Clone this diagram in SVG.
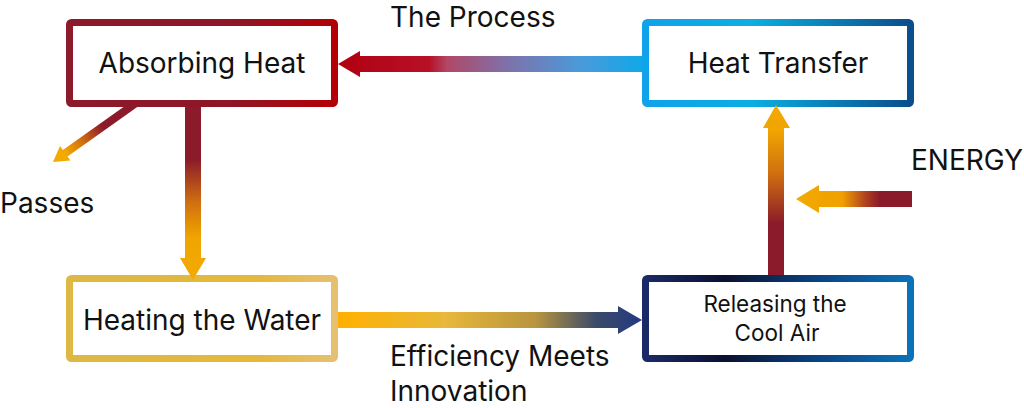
<svg xmlns="http://www.w3.org/2000/svg" width="1024" height="408" viewBox="0 0 1024 408">
  <style>
    .box { fill: #ffffff; stroke-width: 7; }
    .lbl { font-family: Inter, "Noto Sans", "Liberation Sans", sans-serif; font-size: 28px; fill: #111111; }
    .in { text-anchor: middle; }
    .sm { font-size: 22.5px; }
  </style>
  <defs>
    <linearGradient id="gAbs" x1="0" y1="0" x2="1" y2="0">
      <stop offset="0" stop-color="#8B1A2A"/>
      <stop offset="0.6" stop-color="#8E1626"/>
      <stop offset="1" stop-color="#B30005"/>
    </linearGradient>
    <linearGradient id="gHT" x1="0" y1="0" x2="1" y2="0">
      <stop offset="0" stop-color="#10A2EA"/>
      <stop offset="0.4" stop-color="#0BAEE2"/>
      <stop offset="1" stop-color="#0A4E8C"/>
    </linearGradient>
    <linearGradient id="gHW" x1="0" y1="0" x2="1" y2="0">
      <stop offset="0" stop-color="#DDB844"/>
      <stop offset="0.7" stop-color="#E4B83C"/>
      <stop offset="1" stop-color="#E6C070"/>
    </linearGradient>
    <linearGradient id="gRC" x1="0" y1="0" x2="1" y2="0">
      <stop offset="0" stop-color="#1B2A66"/>
      <stop offset="0.3" stop-color="#0B1030"/>
      <stop offset="0.65" stop-color="#0A4382"/>
      <stop offset="1" stop-color="#0A72B8"/>
    </linearGradient>
    <linearGradient id="aTop" gradientUnits="userSpaceOnUse" x1="338" y1="0" x2="642" y2="0">
      <stop offset="0" stop-color="#B00010"/>
      <stop offset="0.3" stop-color="#B81028"/>
      <stop offset="0.36" stop-color="#B04868"/>
      <stop offset="0.55" stop-color="#8070A8"/>
      <stop offset="0.8" stop-color="#4A9ADB"/>
      <stop offset="1" stop-color="#10A8E8"/>
    </linearGradient>
    <linearGradient id="aDown" gradientUnits="userSpaceOnUse" x1="0" y1="107" x2="0" y2="281">
      <stop offset="0" stop-color="#8B1A2A"/>
      <stop offset="0.3" stop-color="#8B1A2A"/>
      <stop offset="0.55" stop-color="#D07010"/>
      <stop offset="0.75" stop-color="#F0A500"/>
      <stop offset="1" stop-color="#F2AA00"/>
    </linearGradient>
    <linearGradient id="aUp" gradientUnits="userSpaceOnUse" x1="0" y1="275" x2="0" y2="105">
      <stop offset="0" stop-color="#8B1A2A"/>
      <stop offset="0.3" stop-color="#8B1A2A"/>
      <stop offset="0.6" stop-color="#D07010"/>
      <stop offset="0.85" stop-color="#F0A500"/>
      <stop offset="1" stop-color="#F2AA00"/>
    </linearGradient>
    <linearGradient id="aEn" gradientUnits="userSpaceOnUse" x1="796" y1="0" x2="912" y2="0">
      <stop offset="0" stop-color="#F2AA00"/>
      <stop offset="0.4" stop-color="#F0A000"/>
      <stop offset="0.6" stop-color="#B04020"/>
      <stop offset="0.72" stop-color="#8B1A2A"/>
      <stop offset="1" stop-color="#8B1A2A"/>
    </linearGradient>
    <linearGradient id="aBot" gradientUnits="userSpaceOnUse" x1="338" y1="0" x2="642" y2="0">
      <stop offset="0" stop-color="#FFB000"/>
      <stop offset="0.35" stop-color="#E8B838"/>
      <stop offset="0.65" stop-color="#B89440"/>
      <stop offset="0.85" stop-color="#3A4A6A"/>
      <stop offset="1" stop-color="#233A80"/>
    </linearGradient>
    <linearGradient id="aPass" gradientUnits="userSpaceOnUse" x1="136" y1="103" x2="53" y2="162">
      <stop offset="0" stop-color="#8B1A2A"/>
      <stop offset="0.4" stop-color="#8B1A2A"/>
      <stop offset="0.65" stop-color="#D07010"/>
      <stop offset="0.85" stop-color="#F2AA00"/>
      <stop offset="1" stop-color="#F2AA00"/>
    </linearGradient>
  </defs>

  <g id="connectors-back">
    <polygon fill="url(#aPass)" points="133.7,99.7 138.3,106.3 67.5,156.6 70.4,160.6 53,162 60,146 62.9,150"/>
  </g>

  <g id="node-absorbing">
    <rect class="box" x="69.5" y="22.5" width="265" height="81" rx="2" stroke="url(#gAbs)"/>
    <text class="lbl in" x="202" y="73">Absorbing Heat</text>
  </g>
  <g id="node-heat-transfer">
    <rect class="box" x="645.5" y="22.5" width="265" height="81" rx="2" stroke="url(#gHT)"/>
    <text class="lbl in" x="778" y="73">Heat Transfer</text>
  </g>
  <g id="node-heating-water">
    <rect class="box" x="69.5" y="278.5" width="265" height="80" rx="2" stroke="url(#gHW)"/>
    <text class="lbl in" x="202" y="330">Heating the Water</text>
  </g>
  <g id="node-releasing">
    <rect class="box" x="645.5" y="278.5" width="265" height="80" rx="2" stroke="url(#gRC)"/>
    <text class="lbl in sm" x="775" y="312">Releasing the</text>
    <text class="lbl in sm" x="777" y="341">Cool Air</text>
  </g>

  <g id="connectors">
    <polygon fill="url(#aTop)" points="338,64 360,51 360,56 642,56 642,72 360,72 360,77"/>
    <polygon fill="url(#aDown)" points="185,107 201,107 201,258 206,258 193,280 180,258 185,258"/>
    <polygon fill="url(#aUp)" points="768,275 784,275 784,128 790,128 776,105 763,128 768,128"/>
    <polygon fill="url(#aEn)" points="912,191 912,207 819,207 819,213 796,199 819,185 819,191"/>
    <polygon fill="url(#aBot)" points="338,312 618,312 618,306 642,320 618,334 618,328 338,328"/>
  </g>

  <g id="labels">
    <text class="lbl" x="390" y="27">The Process</text>
    <text class="lbl" x="0" y="213">Passes</text>
    <text class="lbl" x="911" y="170">ENERGY</text>
    <text class="lbl" x="390" y="366">Efficiency Meets</text>
    <text class="lbl" x="390" y="401">Innovation</text>
  </g>
</svg>
